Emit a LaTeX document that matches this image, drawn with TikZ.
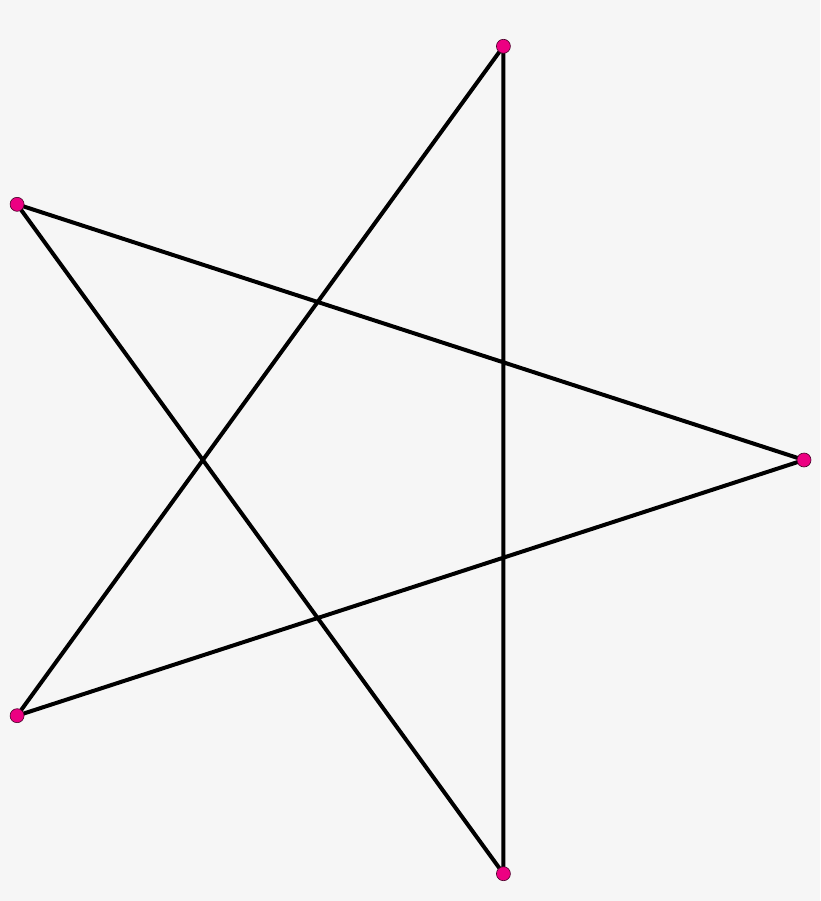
\documentclass[tikz,border=0pt]{standalone}
\usetikzlibrary{calc}
\definecolor{bg}{RGB}{246,246,246}
\definecolor{vert}{RGB}{236,0,130}
\begin{document}
\begin{tikzpicture}[x=1pt,y=-1pt,
  edge/.style={line width=4pt,black,line cap=round},
  vtx/.style={circle,fill=vert,draw=black!70!vert,line width=0.6pt,minimum size=14pt,inner sep=0pt}]
\fill[bg] (0,0) rectangle (820,901);
\useasboundingbox (0,0) rectangle (820,901);
\coordinate (c) at (369,460);
\foreach \i/\a in {0/0,1/72,2/144,3/216,4/288}
  \coordinate (p\i) at ($(c)+({435*cos(\a)},{-435*sin(\a)})$);
\draw[edge] (p0) -- (p2) -- (p4) -- (p1) -- (p3) -- cycle;
\foreach \i in {0,...,4} \node[vtx] (v\i) at (p\i) {};
\end{tikzpicture}
\end{document}
